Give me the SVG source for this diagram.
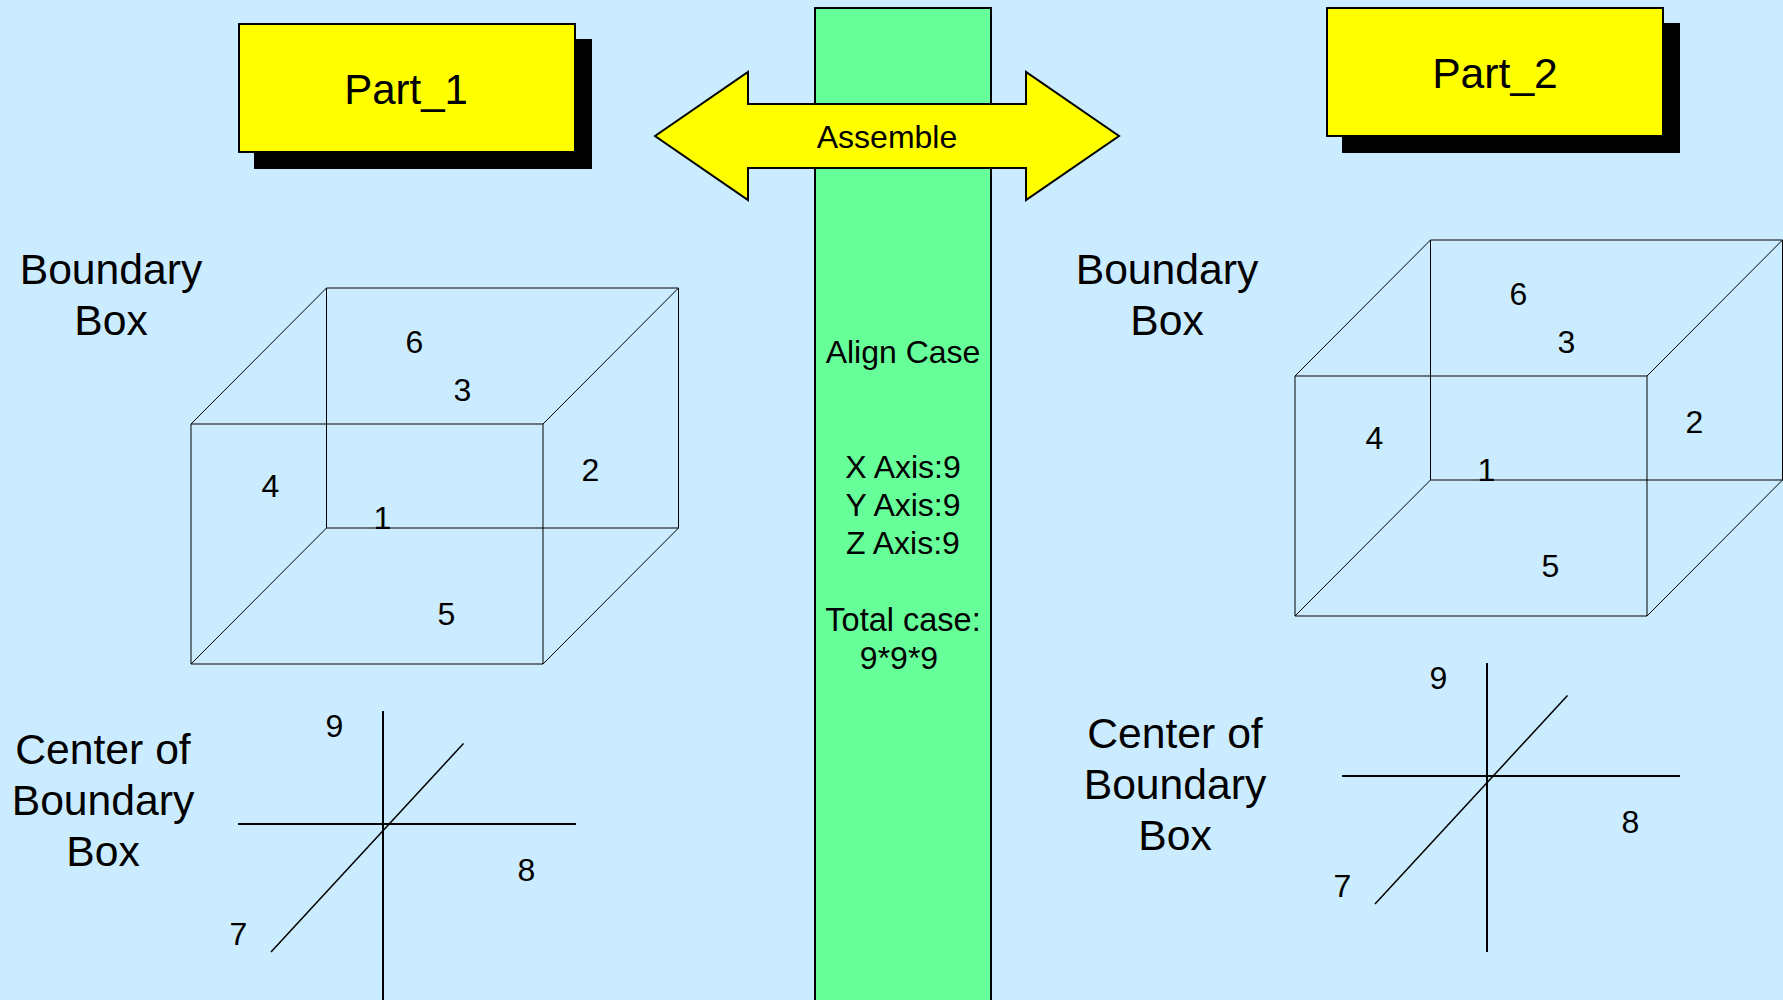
<svg xmlns="http://www.w3.org/2000/svg" width="1783" height="1000" viewBox="0 0 1783 1000">
<style>
text{font-family:"Liberation Sans",Arial,sans-serif;fill:#000;text-anchor:middle}
.l{font-size:42.670px}.s{font-size:32px}
.box{fill:#ff0;stroke:#000;stroke-width:2}
.thin{fill:none;stroke:#000;stroke-width:1}
.cross{fill:none;stroke:#000;stroke-width:2}
.diag{fill:none;stroke:#000;stroke-width:1.500}
</style>
<rect width="1783" height="1000" fill="#cbecff"/>
<g id="center-column">
<rect x="815" y="8" width="176" height="995" fill="#6f9" stroke="#000" stroke-width="2"/>
<text class="s" x="903" y="363">Align Case</text>
<text class="s" x="903" y="478">X Axis:9</text>
<text class="s" x="903" y="516">Y Axis:9</text>
<text class="s" x="903" y="554">Z Axis:9</text>
<text class="s" x="903" y="631" style="font-size:32.500px">Total case:</text>
<text class="s" x="899" y="669">9*9*9</text>
</g>
<g id="assemble">
<polygon class="box" points="655,136 748,72 748,104 1026,104 1026,72 1119,136 1026,200 1026,168 748,168 748,200"/>
<text class="s" x="887" y="148">Assemble</text>
</g>
<g id="part-1">
<rect x="254" y="39" width="338" height="130" fill="#000"/>
<rect class="box" x="239" y="24" width="336" height="128"/>
<text class="l" x="406" y="104" style="font-size:42px">Part_1</text>
</g>
<g id="part-2">
<rect x="1342" y="23" width="338" height="130" fill="#000"/>
<rect class="box" x="1327" y="8" width="336" height="128"/>
<text class="l" x="1495" y="88">Part_2</text>
</g>
<g id="box-1">
<path class="thin" d="M191 424H543V664H191ZM326.500 288H678.500V528H326.500ZM191 424L326.500 288M543 424L678.500 288M191 664L326.500 528M543 664L678.500 528"/>
<text class="l" x="111" y="284">Boundary</text><text class="l" x="111" y="335">Box</text>
<text class="s" x="414.500" y="353">6</text><text class="s" x="462.500" y="401">3</text><text class="s" x="590.500" y="481">2</text><text class="s" x="270.500" y="497">4</text><text class="s" x="382.500" y="529">1</text><text class="s" x="446.500" y="625">5</text>
</g>
<g id="box-2">
<path class="thin" d="M1295 376H1647V616H1295ZM1430.500 240H1782.500V480H1430.500ZM1295 376L1430.500 240M1647 376L1782.500 240M1295 616L1430.500 480M1647 616L1782.500 480"/>
<text class="l" x="1167" y="284">Boundary</text><text class="l" x="1167" y="335">Box</text>
<text class="s" x="1518.500" y="305">6</text><text class="s" x="1566.500" y="353">3</text><text class="s" x="1694.500" y="433">2</text><text class="s" x="1374.500" y="449">4</text><text class="s" x="1486.500" y="481">1</text><text class="s" x="1550.500" y="577">5</text>
</g>
<g id="center-1">
<path class="cross" d="M383 711V1000M238 824H576"/>
<path class="diag" d="M271 952L463.500 743.500"/>
<text class="l" x="103" y="764">Center of</text><text class="l" x="103" y="815">Boundary</text><text class="l" x="103" y="866">Box</text>
<text class="s" x="334.500" y="737">9</text><text class="s" x="526.500" y="881">8</text><text class="s" x="238.500" y="945">7</text>
</g>
<g id="center-2">
<path class="cross" d="M1487 663V952M1342 776H1680"/>
<path class="diag" d="M1375 904L1567.500 695.500"/>
<text class="l" x="1175" y="748">Center of</text><text class="l" x="1175" y="799">Boundary</text><text class="l" x="1175" y="850">Box</text>
<text class="s" x="1438.500" y="689">9</text><text class="s" x="1630.500" y="833">8</text><text class="s" x="1342.500" y="897">7</text>
</g>
</svg>
